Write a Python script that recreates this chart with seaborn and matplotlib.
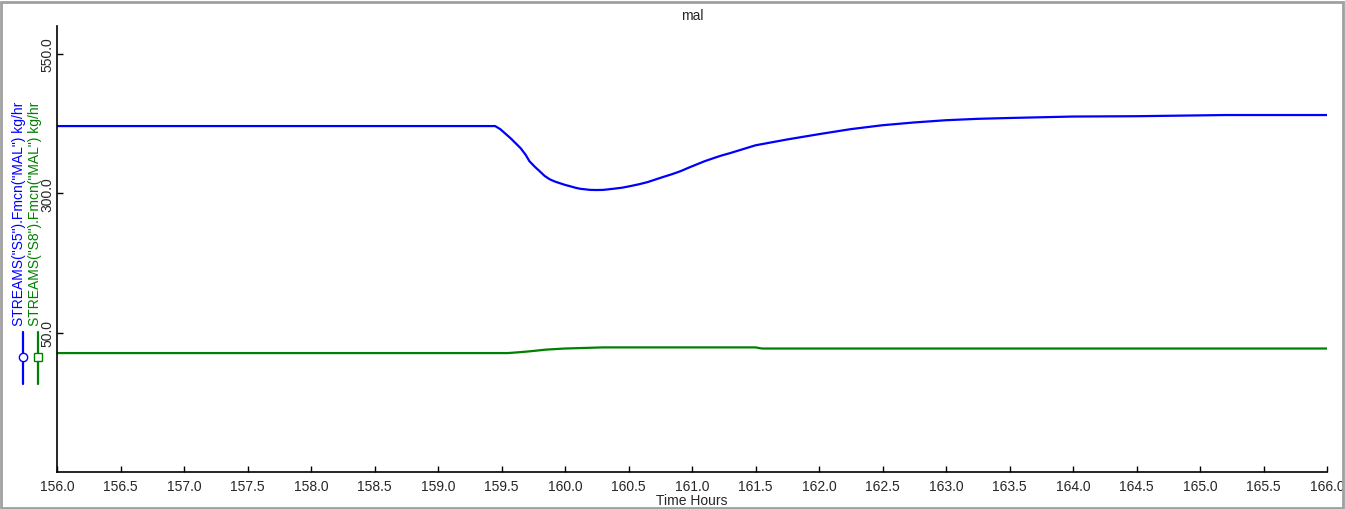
import pandas as pd
import matplotlib.pyplot as plt
import seaborn as sns
from matplotlib.lines import Line2D
from matplotlib.patches import Rectangle

# Values
s5_time = [156.0, 159.45, 159.49, 159.53, 159.57, 159.61, 159.65, 159.69, 159.72,
           159.76, 159.80, 159.84, 159.88, 159.92, 159.96, 160.00, 160.04, 160.08,
           160.12, 160.16, 160.20, 160.25, 160.30, 160.38, 160.45, 160.51, 160.58,
           160.65, 160.71, 160.77, 160.84, 160.91, 160.97, 161.04, 161.10, 161.17,
           161.23, 161.30, 161.40, 161.50, 161.75, 162.0, 162.25, 162.5, 162.75,
           163.0, 163.25, 163.5, 164.0, 164.5, 165.2, 166.0]
s5_flow = [420.5, 420.5, 415, 407, 399, 390, 381, 369, 357.5,
           348, 339.6, 331, 325, 321, 318, 315, 312.6, 310,
           308, 307, 306, 305.8, 306, 308, 310, 312.6, 316,
           320, 324.5, 329, 334, 339.6, 345.5, 352, 357.5, 363,
           367.5, 372, 379, 386, 396.5, 406, 415, 422, 427,
           431, 433.5, 435, 437.6, 438.2, 440.3, 440.3]

s8_time = [156.0, 159.55, 159.62, 159.70, 159.78, 159.85, 160.0, 160.3, 161.5,
           161.55, 166.0]
s8_flow = [13.3, 13.3, 14.5, 16.0, 17.8, 19.5, 21.5, 23.5, 23.5,
           21.5, 21.5]

x_ticks = [156.0 + 0.5 * i for i in range(21)]
y_ticks = [50.0, 300.0, 550.0]

label_s5 = 'STREAMS("S5").Fmcn("MAL") kg/hr'
label_s8 = 'STREAMS("S8").Fmcn("MAL") kg/hr'

df = pd.concat([
    pd.DataFrame({'time': s5_time, 'flow': s5_flow, 'stream': 'S5'}),
    pd.DataFrame({'time': s8_time, 'flow': s8_flow, 'stream': 'S8'}),
])

sns.set_style('white')
plt.rcParams['font.family'] = ['Liberation Sans', 'DejaVu Sans']

fig = plt.figure(figsize=(13.45, 5.1), dpi=100)
ax = fig.add_axes([57 / 1345, 1 - 473 / 510, 1270 / 1345, 446 / 510])

sns.lineplot(data=df, x='time', y='flow', hue='stream',
             palette={'S5': '#0000ff', 'S8': '#008000'},
             linewidth=1.6, legend=False, ax=ax)

ax.set_xlim(156.0, 166.0)
ax.set_ylim(-200, 600)
ax.set_xticks(x_ticks)
ax.set_xticklabels([f'{t:.1f}' for t in x_ticks], fontsize=10)
ax.set_yticks(y_ticks)
ax.set_yticklabels([f'{t:.1f}' for t in y_ticks], fontsize=10,
                   rotation=90, va='center')
ax.tick_params(direction='in', length=4, width=1, color='black',
               bottom=True, left=True)
ax.tick_params(axis='x', pad=5)
ax.tick_params(axis='y', pad=2)
ax.set_xlabel('Time Hours', fontsize=10, labelpad=0)
ax.set_ylabel('')
ax.set_title('mal', fontsize=10, pad=5)
for side in ['top', 'right']:
    ax.spines[side].set_visible(False)
for side in ['left', 'bottom']:
    ax.spines[side].set_color('black')
    ax.spines[side].set_linewidth(1.2)

# Legend drawn as vertical labels on the left, like the original tool
fig.text(19 / 1345, 1 - 326 / 510, label_s5, rotation=90, color='#0000ff',
         fontsize=10, ha='center', va='bottom')
fig.text(35 / 1345, 1 - 326 / 510, label_s8, rotation=90, color='#008000',
         fontsize=10, ha='center', va='bottom')
fig.add_artist(Line2D([23 / 1345, 23 / 1345], [1 - 333 / 510, 1 - 385 / 510],
                      color='#0000ff', lw=1.6, transform=fig.transFigure))
fig.add_artist(Line2D([23 / 1345], [1 - 358 / 510], marker='o', ms=6,
                      mfc='white', mec='#0000ff', transform=fig.transFigure))
fig.add_artist(Line2D([38 / 1345, 38 / 1345], [1 - 333 / 510, 1 - 385 / 510],
                      color='#008000', lw=1.6, transform=fig.transFigure))
fig.add_artist(Line2D([38 / 1345], [1 - 358 / 510], marker='s', ms=6,
                      mfc='white', mec='#008000', transform=fig.transFigure))

# Window frame
fig.add_artist(Rectangle((0.0005, 0.001), 0.998, 0.994, fill=False,
                         edgecolor='#a0a0a0', lw=2, transform=fig.transFigure))

fig.savefig('out.png', dpi=100)
